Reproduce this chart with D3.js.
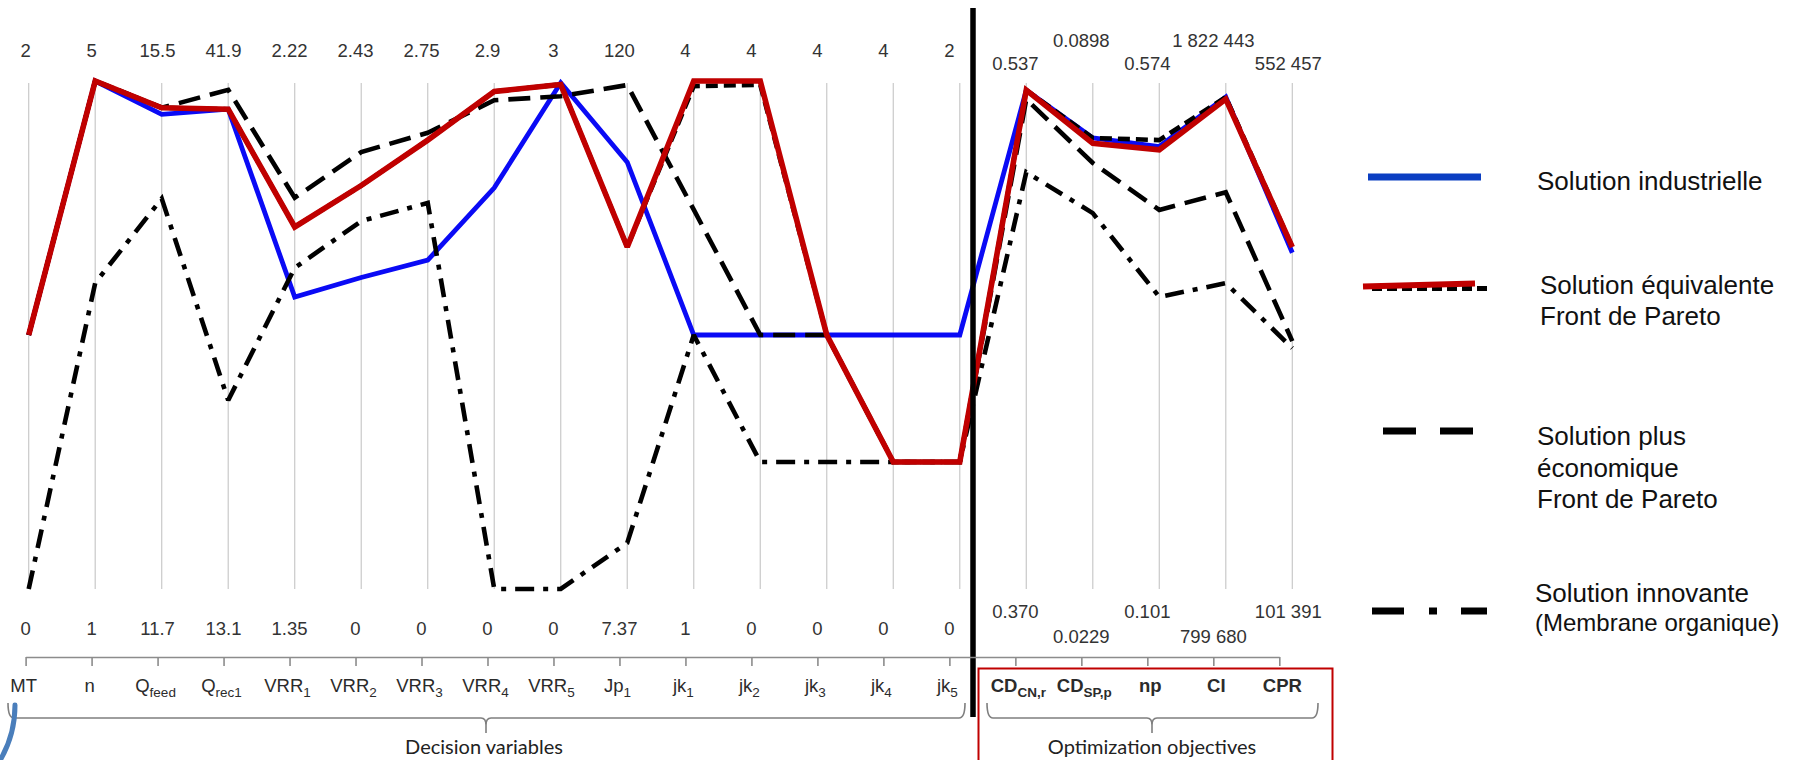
<!DOCTYPE html>
<html>
<head>
<meta charset="utf-8">
<script src="https://cdn.jsdelivr.net/npm/d3@7"></script>
<style>
  html, body { margin: 0; padding: 0; background: #ffffff; }
  svg { display: block; }
  .val { font-family: "Liberation Sans", Arial, sans-serif; font-size: 18.5px; fill: #333333; }
  .cat { font-family: "Liberation Sans", Arial, sans-serif; font-size: 18.5px; fill: #2b2b2b; }
  .legend { font-family: "Liberation Sans", Arial, sans-serif; fill: #111111; }
  .brace-title { font-family: Lato, "Open Sans", sans-serif; font-size: 20px; fill: #222222; }
</style>
</head>
<body>
<svg id="chart" width="1794" height="760"></svg>
<script>
// ---- axes of the parallel-coordinates plot ----
const axisBase = ["MT", "n", "Q", "Q", "VRR", "VRR", "VRR", "VRR", "VRR", "Jp", "jk", "jk", "jk", "jk", "jk",
                  "CD", "CD", "np", "CI", "CPR"];
const axisSub  = ["", "", "feed", "rec1", "1", "2", "3", "4", "5", "1", "1", "2", "3", "4", "5",
                  "CN,r", "SP,p", "", "", ""];
const objectiveStart = 15;   // first optimization-objective axis

// range of every axis (top = max, bottom = min)
const axisMax = [2, 5, 15.5, 41.9, 2.22, 2.43, 2.75, 2.9, 3, 120, 4, 4, 4, 4, 2,
                 0.537, 0.0898, 0.574, 1822443, 552457];
const axisMin = [0, 1, 11.7, 13.1, 1.35, 0, 0, 0, 0, 7.37, 1, 0, 0, 0, 0,
                 0.370, 0.0229, 0.101, 799680, 101391];
const maxLabels = ["2", "5", "15.5", "41.9", "2.22", "2.43", "2.75", "2.9", "3", "120", "4", "4", "4", "4", "2",
                   "0.537", "0.0898", "0.574", "1 822 443", "552 457"];
const minLabels = ["0", "1", "11.7", "13.1", "1.35", "0", "0", "0", "0", "7.37", "1", "0", "0", "0", "0",
                   "0.370", "0.0229", "0.101", "799 680", "101 391"];

// ---- solutions ----
const industrielle = [1, 5, 15.25, 40.3, 1.85, 1.49, 1.78, 2.29, 2.99, 102, 2.5, 2, 2, 2, 1,
                      0.534, 0.0823, 0.513, 1790000, 400000];
const equivalente  = [1, 5, 15.3, 40.3, 1.97, 1.93, 2.43, 2.84, 2.98, 83.2, 4, 4, 2, 1, 0.5,
                      0.534, 0.0816, 0.510, 1786000, 405000];
const equivalentePareto = [1, 5, 15.3, 40.3, 1.97, 1.93, 2.43, 2.84, 2.98, 83.2, 3.97, 3.97, 2, 1, 0.5,
                           0.534, 0.0823, 0.519, 1790000, 405000];
const economique   = [1, 5, 15.3, 41.4, 2.02, 2.09, 2.47, 2.79, 2.91, 119.1, 3.24, 2, 2, 1, 0.5,
                      0.531, 0.0790, 0.454, 1598500, 321500];
const innovante    = [0, 3.41, 14.62, 23.8, 1.90, 1.76, 2.09, 0, 0, 17.6, 2.5, 1, 1, 1, 0.5,
                      0.507, 0.0724, 0.373, 1415400, 315300];

const legendItems = [
  { lines: ["Solution industrielle"] },
  { lines: ["Solution équivalente", "Front de Pareto"] },
  { lines: ["Solution plus", "économique", "Front de Pareto"] },
  { lines: ["Solution innovante", "(Membrane organique)"] }
];

// ---- layout ----
const svg = d3.select("#chart");
const idx = d3.range(axisBase.length);
const yTop = 81, yBottom = 589;

const xLine = d3.scalePoint().domain(idx).range([28.7, 1292.3]);   // polylines & grid
const xTick = d3.scalePoint().domain(idx).range([25.6, 1279.3]);   // category axis & labels
const yScales = idx.map(i => d3.scaleLinear().domain([axisMin[i], axisMax[i]]).range([yBottom, yTop]));

// vertical grid lines
svg.append("g").selectAll("line").data(idx).join("line")
  .attr("x1", i => xLine(i)).attr("x2", i => xLine(i))
  .attr("y1", 83).attr("y2", yBottom)
  .attr("stroke", "#c9c9c9").attr("stroke-width", 1.2);

// value labels at the top (max) and bottom (min) of every axis
const isObj = i => i >= objectiveStart;
const nudge = i => (i === axisBase.length - 1 ? 9 : 0);
svg.append("g").selectAll("text").data(idx).join("text")
  .attr("class", "val").attr("text-anchor", "middle")
  .attr("x", i => xTick(i) + nudge(i))
  .attr("y", i => isObj(i) ? ((i - objectiveStart) % 2 === 0 ? 69.5 : 47) : 57)
  .text(i => maxLabels[i]);
svg.append("g").selectAll("text").data(idx).join("text")
  .attr("class", "val").attr("text-anchor", "middle")
  .attr("x", i => xTick(i) + nudge(i))
  .attr("y", i => isObj(i) ? ((i - objectiveStart) % 2 === 0 ? 618 : 643) : 635)
  .text(i => minLabels[i]);

// solution polylines
const line = d3.line().x((d, i) => xLine(i)).y((d, i) => yScales[i](d));
const series = [
  { values: industrielle,      color: "#0a0af5", width: 4.8, dash: null },
  { values: innovante,         color: "#000000", width: 4.6, dash: "19,9,5,9" },
  { values: economique,        color: "#000000", width: 4.6, dash: "22,10" },
  { values: equivalentePareto, color: "#000000", width: 4.6, dash: "12,6" },
  { values: equivalente,       color: "#c00000", width: 5.6, dash: null }
];
svg.append("g").selectAll("path").data(series).join("path")
  .attr("d", s => line(s.values))
  .attr("fill", "none")
  .attr("stroke", s => s.color)
  .attr("stroke-width", s => s.width)
  .attr("stroke-dasharray", s => s.dash)
  .attr("stroke-linejoin", "miter")
  .attr("stroke-miterlimit", 2.5);

// separator between decision variables and objectives
svg.append("line")
  .attr("x1", 973).attr("x2", 973).attr("y1", 8).attr("y2", 717)
  .attr("stroke", "#000").attr("stroke-width", 5.5);

// category axis
const axisG = svg.append("g").attr("transform", "translate(0,657)")
  .call(d3.axisBottom(xTick).tickSize(9).tickSizeOuter(0).tickFormat(""));
axisG.select(".domain").attr("stroke", "#8c8c8c").attr("stroke-width", 1.6);
axisG.selectAll(".tick line").attr("stroke", "#8c8c8c").attr("stroke-width", 1.6);

// category names with subscripts
const cats = svg.append("g").selectAll("text").data(idx).join("text")
  .attr("class", "cat").attr("text-anchor", "middle")
  .attr("x", i => xTick(i) + (isObj(i) ? 3 : -2))
  .attr("y", 692)
  .attr("font-weight", i => isObj(i) ? "bold" : null);
cats.append("tspan").text(i => axisBase[i]);
cats.filter(i => axisSub[i] !== "").append("tspan")
  .attr("font-size", 13.5).attr("dy", 5).text(i => axisSub[i]);

// braces under the two groups
function brace(x0, x1, cx) {
  const y = 718, top = 703, tip = 733;
  return `M${x0},${top} Q${x0},${y} ${x0 + 6},${y} L${cx - 5},${y} Q${cx},${y} ${cx},${tip - 8} L${cx},${tip}` +
         ` M${cx},${tip - 8} Q${cx},${y} ${cx + 5},${y} L${x1 - 6},${y} Q${x1},${y} ${x1},${top}`;
}
svg.append("path").attr("d", brace(8, 965, 486))
  .attr("fill", "none").attr("stroke", "#7f7f7f").attr("stroke-width", 1.6);
svg.append("path").attr("d", brace(987, 1318, 1152))
  .attr("fill", "none").attr("stroke", "#7f7f7f").attr("stroke-width", 1.6);
svg.append("text").attr("class", "brace-title").attr("text-anchor", "middle")
  .attr("x", 484).attr("y", 754).text("Decision variables");
svg.append("text").attr("class", "brace-title").attr("text-anchor", "middle")
  .attr("x", 1152).attr("y", 754).text("Optimization objectives");

// frame around the objectives block
svg.append("rect").attr("x", 978.5).attr("y", 668.5).attr("width", 354).attr("height", 110)
  .attr("fill", "none").attr("stroke", "#c00000").attr("stroke-width", 2);

// arc in the lower-left corner
svg.append("path").attr("d", "M15,705 A110,110 0 0 1 -2.8,765")
  .attr("fill", "none").attr("stroke", "#4a7ebb").attr("stroke-width", 5).attr("stroke-linecap", "round");

// ---- legend ----
const lg = svg.append("g");
lg.append("line").attr("x1", 1368).attr("x2", 1481).attr("y1", 177).attr("y2", 177)
  .attr("stroke", "#0b3ec2").attr("stroke-width", 7);
lg.append("line").attr("x1", 1372).attr("x2", 1487).attr("y1", 288.5).attr("y2", 288.5)
  .attr("stroke", "#000").attr("stroke-width", 5).attr("stroke-dasharray", "10,5");
lg.append("line").attr("x1", 1363).attr("x2", 1475).attr("y1", 286.5).attr("y2", 283.5)
  .attr("stroke", "#c00000").attr("stroke-width", 6);
lg.append("line").attr("x1", 1383).attr("x2", 1497).attr("y1", 431).attr("y2", 431)
  .attr("stroke", "#000").attr("stroke-width", 7).attr("stroke-dasharray", "33,24");
lg.append("line").attr("x1", 1372).attr("x2", 1487).attr("y1", 611).attr("y2", 611)
  .attr("stroke", "#000").attr("stroke-width", 7).attr("stroke-dasharray", "32,25,8,24");

const legendX = [1537, 1540, 1537, 1535];
const legendY = [190, 293.5, 445, 601.5];
const legendStep = [31, 31, 31.7, 29.5];
legendItems.forEach((item, k) => {
  const t = lg.append("text").attr("class", "legend")
    .attr("x", legendX[k]).attr("y", legendY[k]);
  item.lines.forEach((s, j) => {
    t.append("tspan").attr("x", legendX[k])
      .attr("dy", j === 0 ? 0 : legendStep[k])
      .attr("font-size", (k === 3 && j === 1) ? 24 : 26)
      .text(s);
  });
});
</script>
</body>
</html>
